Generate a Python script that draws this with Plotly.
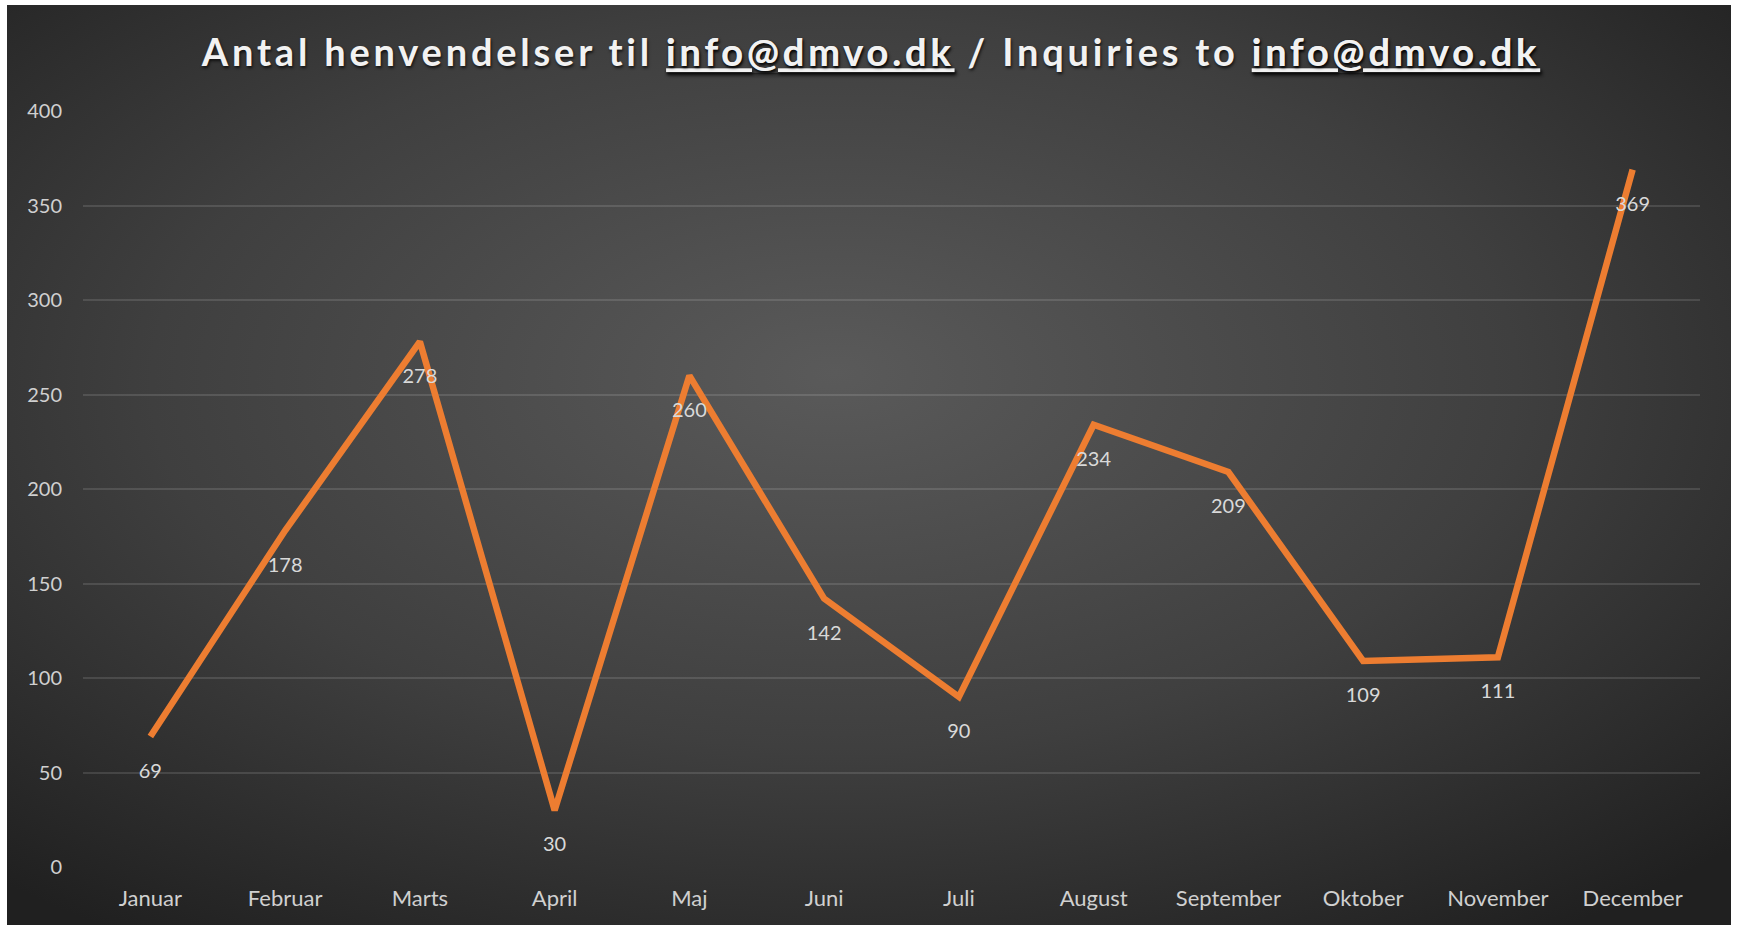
import base64
import plotly.graph_objects as go

months = ["Januar", "Februar", "Marts", "April", "Maj", "Juni", "Juli",
          "August", "September", "Oktober", "November", "December"]
inquiries = [69, 178, 278, 30, 260, 142, 90, 234, 209, 109, 111, 369]
y_ticks = [0, 50, 100, 150, 200, 250, 300, 350, 400]

W, H = 1737, 925
ML, MR, MT, MB = 83, 37, 111, 58
plot_w = W - ML - MR
plot_h = H - MT - MB

# background panel (radial gradient) in pixel coordinates
bx0, by0, bx1, by1 = 7, 5, 1731, 925

svg = (
    '<svg xmlns="http://www.w3.org/2000/svg" width="1724" height="920" viewBox="0 0 1724 920" preserveAspectRatio="none">'
    '<defs><radialGradient id="g" cx="0.48" cy="0.42" r="0.72" fx="0.48" fy="0.40">'
    '<stop offset="0" stop-color="#5a5a5a"/>'
    '<stop offset="0.55" stop-color="#3f3f3f"/>'
    '<stop offset="1" stop-color="#202020"/>'
    '</radialGradient></defs>'
    '<rect x="0" y="0" width="1724" height="920" fill="url(#g)"/></svg>'
)
src = "data:image/svg+xml;base64," + base64.b64encode(svg.encode()).decode()

fig = go.Figure()
fig.add_trace(go.Scatter(
    x=months, y=inquiries,
    mode="lines+markers+text",
    line=dict(color="#ED7D31", width=6.5),
    marker=dict(size=40, opacity=0, color="#ED7D31"),
    text=[str(v) for v in inquiries],
    textposition="bottom center",
    textfont=dict(family="Lato", size=20, color="#d9d9d9"),
    cliponaxis=False,
    hoverinfo="skip",
))

fig.add_layout_image(dict(
    source=src, xref="paper", yref="paper",
    x=(bx0 - ML) / plot_w, y=(H - MB - by0) / plot_h,
    sizex=(bx1 - bx0) / plot_w, sizey=(by1 - by0) / plot_h,
    xanchor="left", yanchor="top", sizing="stretch", layer="below",
))

title = ('<span style="letter-spacing:3.8px"><b>Antal henvendelser til <u>info@dmvo.dk</u> / '
         'Inquiries to <u>info@dmvo.dk</u></b></span>')

fig.update_layout(
    width=W, height=H,
    margin=dict(l=ML, r=MR, t=MT, b=MB),
    paper_bgcolor="white",
    plot_bgcolor="rgba(0,0,0,0)",
    showlegend=False,
    title=dict(
        text=title, x=871 / W, xanchor="center",
        y=1 - 53 / H, yanchor="middle", yref="container",
        font=dict(family="Lato", size=38, color="#f2f2f2",
                  shadow="1px 2px 3px rgba(0,0,0,0.7)"),
    ),
    xaxis=dict(
        range=[-0.5, 11.5], showgrid=False, zeroline=False, showline=False,
        ticks="", ticklabelstandoff=16,
        tickfont=dict(family="Lato", size=22, color="#d0d0d0"),
    ),
    yaxis=dict(
        range=[0, 400], tickvals=y_ticks, showgrid=True,
        gridcolor="rgba(255,255,255,0.12)", gridwidth=1.5,
        zeroline=False, showline=False, ticks="", ticklabelstandoff=20,
        tickfont=dict(family="Lato", size=20, color="#d0d0d0"),
    ),
)

fig.write_html("out.html",
               config={"displayModeBar": False},
               post_script="document.body.style.margin='0';document.body.style.padding='0';")
